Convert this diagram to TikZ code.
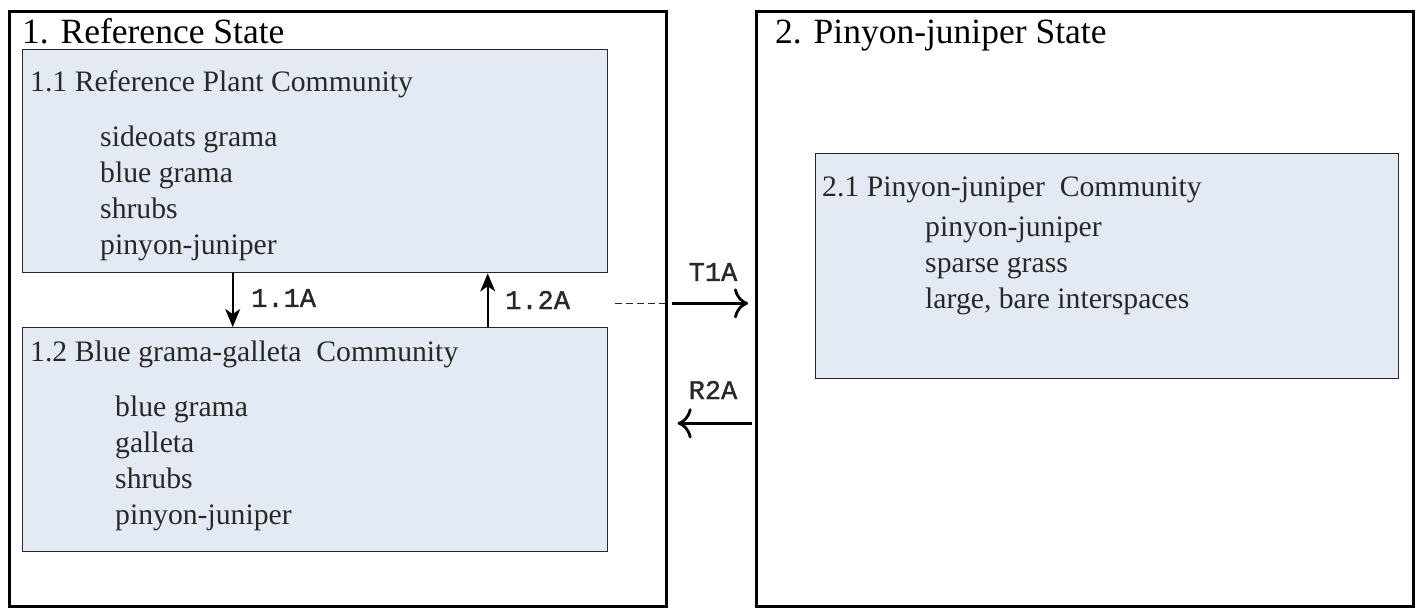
\documentclass[tikz,border=0pt]{standalone}
\usepackage{fontspec}
\setmainfont{Liberation Serif}
\newfontface\lblfont[FakeBold=1.2]{Liberation Mono}
\usetikzlibrary{arrows.meta}
\definecolor{commfill}{RGB}{228,234,244}
\definecolor{inkgray}{RGB}{40,40,40}

\begin{document}
\begin{tikzpicture}
  [x=1pt,y=-1pt,
   statebox/.style={draw=black,line width=2.6pt,anchor=north west,inner sep=0pt},
   commbox/.style={draw=inkgray,fill=commfill,line width=1.4pt,anchor=north west,inner sep=0pt},
   title/.style={anchor=base west,inner sep=0pt,text=black,font=\fontsize{35.5}{40}\selectfont},
   hdr/.style={anchor=base west,inner sep=0pt,text=inkgray,font=\fontsize{29.7}{34}\selectfont},
   item/.style={hdr},
   lbl/.style={inner sep=0pt,text=inkgray,font=\lblfont\fontsize{27}{30}\selectfont},
   arr/.style={-{Stealth[length=18pt,width=15pt,inset=5pt]},line width=1.7pt,black},
   bigarr/.style={-{To[length=14pt,width=30pt]},line width=2.8pt,black}]
  \useasboundingbox (0,0) rectangle (1418,608);
  \fill[white] (0,0) rectangle (1418,608);
  \node[statebox,minimum width=657pt,minimum height=595pt] (st1) at (8,10) {};
  \node[statebox,minimum width=657pt,minimum height=595pt] (st2) at (755,10) {};
  \node[title] (t1) at (22,43) {1. Reference State};
  \node[title] (t2) at (775,43) {2. Pinyon-juniper State};

  \node[commbox,minimum width=585pt,minimum height=223pt] (c11) at (22,49) {};
  \node[hdr] (h11) at (30,91) {1.1 Reference Plant Community};
  \node[item] (i11a) at (100,146) {sideoats grama};
  \node[item] (i11b) at (100,182) {blue grama};
  \node[item] (i11c) at (100,218) {shrubs};
  \node[item] (i11d) at (100,254) {pinyon-juniper};

  \node[commbox,minimum width=585pt,minimum height=224pt] (c12) at (22,327) {};
  \node[hdr] (h12) at (30,361) {1.2 Blue grama-galleta\ \ Community};
  \node[item] (i12a) at (115,416) {blue grama};
  \node[item] (i12b) at (115,452) {galleta};
  \node[item] (i12c) at (115,488) {shrubs};
  \node[item] (i12d) at (115,524) {pinyon-juniper};

  \node[commbox,minimum width=583pt,minimum height=225pt] (c21) at (815,153) {};
  \node[hdr] (h21) at (822,196) {2.1 Pinyon-juniper\ \ Community};
  \node[item] (i21a) at (925,236) {pinyon-juniper};
  \node[item] (i21b) at (925,272) {sparse grass};
  \node[item] (i21c) at (925,308) {large, bare interspaces};

  \draw[arr] ([xshift=-82.5pt]c11.south) -- ([xshift=-82.5pt]c12.north);
  \draw[arr] ([xshift=172.5pt]c12.north) -- ([xshift=172.5pt]c11.south);
  \node[lbl,anchor=west] (l11) at (251,298) {1.1A};
  \node[lbl,anchor=west] (l12) at (505,300) {1.2A};

  \draw[inkgray,line width=1.3pt,dash pattern=on 7pt off 4pt]
    ([xshift=-53pt,yshift=5.5pt]st1.east) -- ([xshift=-3pt,yshift=5.5pt]st1.east);
  \draw[bigarr] ([xshift=4pt,yshift=5.5pt]st1.east) -- ([xshift=-7pt,yshift=5.5pt]st2.west);
  \draw[bigarr] ([xshift=-3pt,yshift=-114.5pt]st2.west) -- ([xshift=10pt,yshift=-114.5pt]st1.east);
  \node[lbl] (lt) at (713,272) {T1A};
  \node[lbl] (lr) at (713,390) {R2A};
\end{tikzpicture}
\end{document}
